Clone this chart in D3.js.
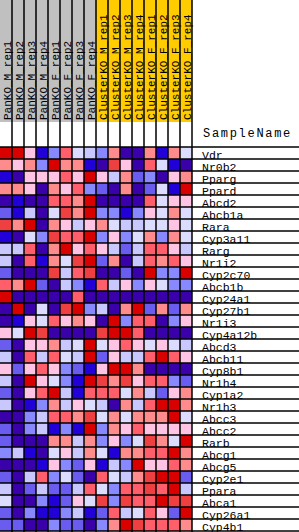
<!DOCTYPE html>
<html>
<head>
<meta charset="utf-8">
<script src="https://cdn.jsdelivr.net/npm/d3@7"></script>
<style>
  body { margin: 0; background: #fff; }
  text { font-family: "Liberation Mono", "DejaVu Sans Mono", monospace; fill: #000; }
</style>
</head>
<body>
<svg id="chart" width="299" height="532"></svg>
<script>
var samples = ["PanKO_M_rep1", "PanKO_M_rep2", "PanKO_M_rep3", "PanKO_M_rep4",
    "PanKO_F_rep1", "PanKO_F_rep2", "PanKO_F_rep3", "PanKO_F_rep4",
    "ClusterKO_M_rep1", "ClusterKO_M_rep2", "ClusterKO_M_rep3", "ClusterKO_M_rep4",
    "ClusterKO_F_rep1", "ClusterKO_F_rep2", "ClusterKO_F_rep3", "ClusterKO_F_rep4"];
var groups = ["PanKO", "PanKO", "PanKO", "PanKO", "PanKO", "PanKO", "PanKO", "PanKO",
    "ClusterKO", "ClusterKO", "ClusterKO", "ClusterKO", "ClusterKO", "ClusterKO", "ClusterKO", "ClusterKO"];

var genes = ["Vdr", "Nr0b2", "Pparg", "Ppard", "Abcd2", "Abcb1a", "Rara", "Cyp3a11",
    "Rarg", "Nr1i2", "Cyp2c70", "Abcb1b", "Cyp24a1", "Cyp27b1", "Nr1i3", "Cyp4a12b",
    "Abcd3", "Abcb11", "Cyp8b1", "Nr1h4", "Cyp1a2", "Nr1h3", "Abcc3", "Abcc2",
    "Rarb", "Abcg1", "Abcg5", "Cyp2e1", "Ppara", "Abca1", "Cyp26a1", "Cyp4b1"];

// expression level per gene, -5 (low) .. 5 (high), one value per sample
var levels = [
    [5, 5, 1, -4, -2, 3, 0, -1, -2, 2, -5, -5, 2, -4, 2, 0],
    [2, 1, 2, -2, 5, 2, 2, -4, -5, 4, 1, -5, 3, 0, -4, -5],
    [-4, -5, 1, 1, 1, 3, 1, 5, 1, -1, 2, -3, -2, -5, 1, 2],
    [2, 2, 1, -5, 2, 1, 3, -2, -3, -5, 2, -5, -3, 0, -4, 5],
    [-5, -4, -5, -5, 3, 3, 2, 5, -5, -5, -5, -5, 3, 0, 1, 1],
    [-3, -4, -1, -5, 0, 4, 2, 5, -2, -2, -4, -2, 1, 0, 2, 0],
    [4, 2, 5, -5, 2, 1, -1, 1, 2, 0, -1, -1, 0, 0, 1, 0],
    [-4, -5, 0, -2, 4, 3, 3, 5, -2, 1, -2, 0, 2, -2, 2, 0],
    [-1, -1, 3, -5, 2, 5, 1, 3, 1, -1, -3, -1, 3, 3, 1, -1],
    [-1, -5, 3, -4, 2, 0, 4, 5, -3, 2, -5, -1, 3, 2, 3, 1],
    [-3, -5, -5, -5, 4, -1, 3, 4, -5, -5, -3, -5, 5, -2, -2, 5],
    [3, 2, 5, -3, -5, -1, -2, -4, 3, -1, 1, -2, 1, 0, -2, -2],
    [5, -5, -5, -5, -5, -5, 3, -5, -5, -5, -5, -5, -5, -5, -5, -5],
    [-5, 5, -5, 0, -5, 4, 5, -2, -1, -5, 2, 5, -3, 2, -3, 2],
    [-5, -4, 1, 0, 3, 1, 2, 1, -5, 5, -2, 3, 3, -5, -2, 1],
    [1, 0, 5, 4, -5, -5, -5, -5, 4, 5, 5, 3, -5, -5, -5, -5],
    [-3, -5, 1, 1, 2, -1, 0, 5, 0, 1, 3, 1, 0, 1, 0, -1],
    [-1, -5, 3, -1, 3, 0, -1, 5, -3, 1, -1, -1, 3, 5, 3, 1],
    [1, -3, 1, 3, 1, -2, -3, -4, 1, 5, 5, 2, -5, -5, -5, -5],
    [-1, -5, 5, 1, 0, -2, -4, 5, 4, 2, 4, 1, 3, 3, -2, -3],
    [-3, -5, 1, 3, 5, -1, -4, 3, 3, 3, 0, 2, -1, -3, 1, 2],
    [-1, -5, -4, -2, 2, -1, 1, 0, -1, -5, 2, -1, 3, 5, 5, 2],
    [-5, -5, -2, -1, 3, 3, 2, 4, 0, 2, 0, 2, 2, 2, 5, 0],
    [-3, -5, -2, -1, -4, -2, -4, 5, -2, 2, 1, 3, 1, 1, 1, 1],
    [-3, -5, -5, -5, 2, 2, -1, 2, -2, 1, -2, 0, 4, 2, 0, 5],
    [-2, -1, -4, -5, 0, 1, -1, 2, 0, -4, 2, 2, 3, 3, 5, 2],
    [-5, -5, -5, -4, 1, -2, -3, 1, -4, -1, -2, 5, 1, 1, 3, 2],
    [-3, -5, -1, 3, -2, 0, -3, -5, 3, 0, -1, 2, 4, 5, 5, -3],
    [-1, -5, -3, -1, -3, -3, -1, 3, 0, -2, 3, 3, 4, 3, 5, -1],
    [0, -5, -5, -2, -4, -3, 1, 0, 4, -2, 4, 3, 3, 5, 4, 4],
    [-3, -5, -2, -4, -4, -2, -1, -4, -3, 3, -1, 0, 3, 1, -3, 5],
    [-3, -3, -5, -5, -2, -3, -3, -5, -2, 2, 5, 4, 3, 3, 3, 2]
];

var svg = d3.select("#chart");

var x = d3.scaleBand().domain(samples).range([0, 192]);
var y = d3.scaleBand().domain(genes).range([147, 531]);

var color = d3.scaleOrdinal()
    .domain([-5, -4, -3, -2, -1, 0, 1, 2, 3, 4, 5])
    .range(["#3a00aa", "#2200d8", "#6a5cee", "#8888ff", "#c8c8ff", "#dcdcff",
             "#ffc4e4", "#ff8c8c", "#ff5e6a", "#ee4040", "#d90000"]);

var groupColor = d3.scaleOrdinal().domain(["PanKO", "ClusterKO"]).range(["#c0c0c0", "#ffcc00"]);

// header colour blocks
svg.selectAll(".hdr")
    .data(samples)
    .enter()
    .append("rect")
    .attr("x", d => x(d))
    .attr("y", 0)
    .attr("width", x.bandwidth())
    .attr("height", 122)
    .attr("fill", (d, i) => groupColor(groups[i]));

// sample labels, rotated
svg.selectAll(".slab")
    .data(samples)
    .enter()
    .append("text")
    .attr("transform", d => "translate(" + (x(d) + 10.5) + ",120) rotate(-90)")
    .style("font-size", "11px")
    .text(d => d);

// heat cells
var cells = [];
levels.forEach((row, r) => row.forEach((v, c) => cells.push({ gene: genes[r], sample: samples[c], v: v })));

svg.selectAll(".cell")
    .data(cells)
    .enter()
    .append("rect")
    .attr("x", d => x(d.sample))
    .attr("y", d => y(d.gene))
    .attr("width", x.bandwidth())
    .attr("height", y.bandwidth())
    .attr("fill", d => color(d.v));

// grid lines: columns run from the top down to the bottom
svg.selectAll(".vline")
    .data(samples.slice(1).concat(["end"]))
    .enter()
    .append("line")
    .attr("x1", (d, i) => (i + 1) * x.bandwidth())
    .attr("x2", (d, i) => (i + 1) * x.bandwidth())
    .attr("y1", 0)
    .attr("y2", 532)
    .attr("stroke", "#000")
    .attr("stroke-width", 1.5);

// row lines, carried through the label area
svg.selectAll(".hline")
    .data(genes)
    .enter()
    .append("line")
    .attr("x1", 0)
    .attr("x2", 299)
    .attr("y1", d => y(d) + y.bandwidth())
    .attr("y2", d => y(d) + y.bandwidth())
    .attr("stroke", "#000")
    .attr("stroke-width", 1.5);

svg.append("line")
    .attr("x1", 0).attr("x2", 299)
    .attr("y1", 147).attr("y2", 147)
    .attr("stroke", "#000")
    .attr("stroke-width", 1.5);

// gene labels
svg.selectAll(".glab")
    .data(genes)
    .enter()
    .append("text")
    .attr("x", 202)
    .attr("y", d => y(d) + y.bandwidth() - 0.5)
    .style("font-size", "11.5px")
    .text(d => d);

svg.append("text")
    .attr("x", 203)
    .attr("y", 137)
    .style("font-size", "12px")
    .style("letter-spacing", "1.7px")
    .text("SampleName");
</script>
</body>
</html>
